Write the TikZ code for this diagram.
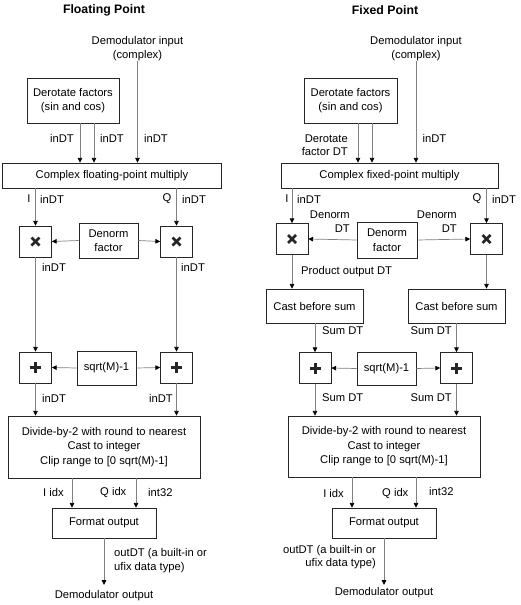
\documentclass[tikz,border=0pt]{standalone}
\usepackage{fontspec}
\setmainfont{Liberation Sans}
\usetikzlibrary{arrows.meta}
\tikzset{
  box/.style={draw=black!85, line width=0.6pt, fill=white, align=center, inner sep=0pt, font=\fontsize{11.2}{14.5}\selectfont},
  conn/.style={draw=gray, line width=0.7pt, -{Triangle[length=4.8pt,width=4.5pt,color=black]}},
  lbl/.style={inner sep=0pt, align=center, font=\fontsize{11.2}{13.5}\selectfont},
  lbll/.style={lbl, anchor=west, align=left},
  lblr/.style={lbl, anchor=east, align=right},
  ttl/.style={inner sep=0pt, font=\fontsize{12.3}{14}\selectfont\bfseries},
  opbox/.style={draw=black!85, line width=0.6pt, fill=white, minimum width=32pt, minimum height=31pt, inner sep=0pt},
  mulop/.style={opbox, path picture={
     \draw[line width=2.8pt] ([shift={(-4pt,-4pt)}]path picture bounding box.center) -- ([shift={(4pt,4pt)}]path picture bounding box.center);
     \draw[line width=2.8pt] ([shift={(-4pt,4pt)}]path picture bounding box.center) -- ([shift={(4pt,-4pt)}]path picture bounding box.center);}},
  addop/.style={opbox, path picture={
     \draw[line width=3pt] ([shift={(-5.5pt,0pt)}]path picture bounding box.center) -- ([shift={(5.5pt,0pt)}]path picture bounding box.center);
     \draw[line width=3pt] ([shift={(0pt,-5.5pt)}]path picture bounding box.center) -- ([shift={(0pt,5.5pt)}]path picture bounding box.center);}}
}
\begin{document}
\begin{tikzpicture}[x=1pt,y=-1pt]
\useasboundingbox (0,0) rectangle (520,605);
% ================= LEFT: Floating Point =================
\node[ttl] (tL) at (104,10) {Floating Point};
\node[lbl] (inL) at (137.5,48.5) {Demodulator input\\(complex)};
\node[box, minimum width=92pt, minimum height=45pt] (derL) at (73,100.5) {Derotate factors\\(sin and cos)};
\node[box, minimum width=219pt, minimum height=25pt] (mulL) at (112,175.5) {Complex floating-point multiply};
\draw[conn] (inL.south) -- (inL.south |- mulL.north);
\coordinate (dL1) at ([xshift=7pt]derL.south);
\coordinate (dL2) at ([xshift=21pt]derL.south);
\draw[conn] (dL1) -- (dL1 |- mulL.north);
\draw[conn] (dL2) -- (dL2 |- mulL.north);
\node[lbl] (lL1) at (62,138) {inDT};
\node[lbl] (lL2) at (112,138) {inDT};
\node[lbl] (lL3) at (156,138) {inDT};

\node[mulop] (xL) at (35.5,241.5) {};
\node[mulop] (xR) at (176.5,241.5) {};
\node[box, minimum width=59pt, minimum height=35pt] (denL) at (108.5,240.5) {Denorm\\factor};
\draw[conn] (xL.north |- mulL.south) -- (xL.north);
\draw[conn] (xR.north |- mulL.south) -- (xR.north);
\draw[conn] (denL.west) -- (xL.east);
\draw[conn] (denL.east) -- (xR.west);
\node[lbl] (iL) at (29,199) {I};
\node[lbll] (iLd) at (40,199) {inDT};
\node[lbl] (qL) at (167,199) {Q};
\node[lbll] (qLd) at (182,199) {inDT};
\node[lbll] (xLd) at (42,267) {inDT};
\node[lbll] (xRd) at (181,267) {inDT};

\node[addop] (pL) at (35.5,367.5) {};
\node[addop] (pR) at (176.5,367.5) {};
\node[box, minimum width=59pt, minimum height=34pt] (sqL) at (106.5,368) {sqrt(M)-1};
\draw[conn] (xL.south) -- (pL.north);
\draw[conn] (xR.south) -- (pR.north);
\draw[conn] (sqL.west) -- (pL.east);
\draw[conn] (sqL.east) -- (pR.west);
\node[lbll] (pLd) at (42,398) {inDT};
\node[lblr] (pRd) at (173,398) {inDT};

\node[box, minimum width=192pt, minimum height=62pt] (divL) at (104,447) {Divide-by-2 with round to nearest\\Cast to integer\\Clip range to [0 sqrt(M)-1]};
\draw[conn] (pL.south) -- (pL.south |- divL.north);
\draw[conn] (pR.south) -- (pR.south |- divL.north);
\node[box, minimum width=104pt, minimum height=30pt] (fmtL) at (104,523) {Format output};
\coordinate (oL1) at ([xshift=-32pt]divL.south);
\coordinate (oL2) at ([xshift=32pt]divL.south);
\draw[conn] (oL1) -- (oL1 |- fmtL.north);
\draw[conn] (oL2) -- (oL2 |- fmtL.north);
\node[lbll] (iiL) at (43,492) {I idx};
\node[lbll] (qiL) at (100,492) {Q idx};
\node[lbll] (i32L) at (148,492) {int32};
\node[lbl] (outL) at (104,596) {Demodulator output};
\coordinate (eL) at (104,585);
\draw[conn] (fmtL.south) -- (eL);
\node[lbll] (odL) at (114,560.5) {outDT (a built-in or\\ufix data type)};

% ================= RIGHT: Fixed Point =================
\node[ttl] (tR) at (385,10) {Fixed Point};
\node[lbl] (inR) at (416,48.5) {Demodulator input\\(complex)};
\node[box, minimum width=93pt, minimum height=45pt] (derR) at (350.5,100.5) {Derotate factors\\(sin and cos)};
\node[box, minimum width=217pt, minimum height=25pt] (mulR) at (389.5,175.5) {Complex fixed-point multiply};
\draw[conn] (inR.south) -- (inR.south |- mulR.north);
\coordinate (dR1) at ([xshift=7.5pt]derR.south);
\coordinate (dR2) at ([xshift=21.5pt]derR.south);
\draw[conn] (dR1) -- (dR1 |- mulR.north);
\draw[conn] (dR2) -- (dR2 |- mulR.north);
\node[lblr] (lR1) at (348,145) {Derotate\\factor DT};
\node[lbl] (lR2) at (434.5,138) {inDT};

\node[mulop] (xL2) at (292,239) {};
\node[mulop] (xR2) at (486.5,239) {};
\node[box, minimum width=60pt, minimum height=36pt] (denR) at (387,240) {Denorm\\factor};
\draw[conn] (xL2.north |- mulR.south) -- (xL2.north);
\draw[conn] (xR2.north |- mulR.south) -- (xR2.north);
\draw[conn] (denR.west) -- (xL2.east);
\draw[conn] (denR.east) -- (xR2.west);
\node[lbl] (iR) at (287,199) {I};
\node[lbll] (iRd) at (297,199) {inDT};
\node[lbl] (qR) at (477,199) {Q};
\node[lbll] (qRd) at (492,199) {inDT};
\node[lblr] (dnL) at (350,221.5) {Denorm\\DT};
\node[lblr] (dnR) at (457,221.5) {Denorm\\DT};
\node[lbll] (pod) at (301,272) {Product output DT};

\node[box, minimum width=97pt, minimum height=34pt] (castL) at (314.5,306) {Cast before sum};
\node[box, minimum width=97pt, minimum height=34pt] (castR) at (456.5,306) {Cast before sum};
\draw[conn] (xL2.south) -- (xL2.south |- castL.north);
\draw[conn] (xR2.south) -- (xR2.south |- castR.north);

\node[addop] (pL2) at (315,368) {};
\node[addop] (pR2) at (456.5,368) {};
\node[box, minimum width=59pt, minimum height=33pt] (sqR) at (386.5,368.5) {sqrt(M)-1};
\draw[conn] (pL2.north |- castL.south) -- (pL2.north);
\draw[conn] (pR2.north |- castR.south) -- (pR2.north);
\draw[conn] (sqR.west) -- (pL2.east);
\draw[conn] (sqR.east) -- (pR2.west);
\node[lbll] (sdL) at (322,331) {Sum DT};
\node[lblr] (sdR) at (452,331) {Sum DT};
\node[lbll] (sdL2) at (322,398) {Sum DT};
\node[lblr] (sdR2) at (452,398) {Sum DT};

\node[box, minimum width=192pt, minimum height=61pt] (divR) at (384,446.5) {Divide-by-2 with round to nearest\\Cast to integer\\Clip range to [0 sqrt(M)-1]};
\draw[conn] (pL2.south) -- (pL2.south |- divR.north);
\draw[conn] (pR2.south) -- (pR2.south |- divR.north);
\node[box, minimum width=104pt, minimum height=30pt] (fmtR) at (384,523) {Format output};
\coordinate (oR1) at ([xshift=-32pt]divR.south);
\coordinate (oR2) at ([xshift=32pt]divR.south);
\draw[conn] (oR1) -- (oR1 |- fmtR.north);
\draw[conn] (oR2) -- (oR2 |- fmtR.north);
\node[lblr] (iiR) at (344,493) {I idx};
\node[lbll] (qiR) at (382,493) {Q idx};
\node[lbll] (i32R) at (429,491) {int32};
\node[lbl] (outR) at (384,593) {Demodulator output};
\coordinate (eR) at (384,585);
\draw[conn] (fmtR.south) -- (eR);
\node[lblr] (odR) at (376,557) {outDT (a built-in or\\ufix data type)};
\end{tikzpicture}
\end{document}
